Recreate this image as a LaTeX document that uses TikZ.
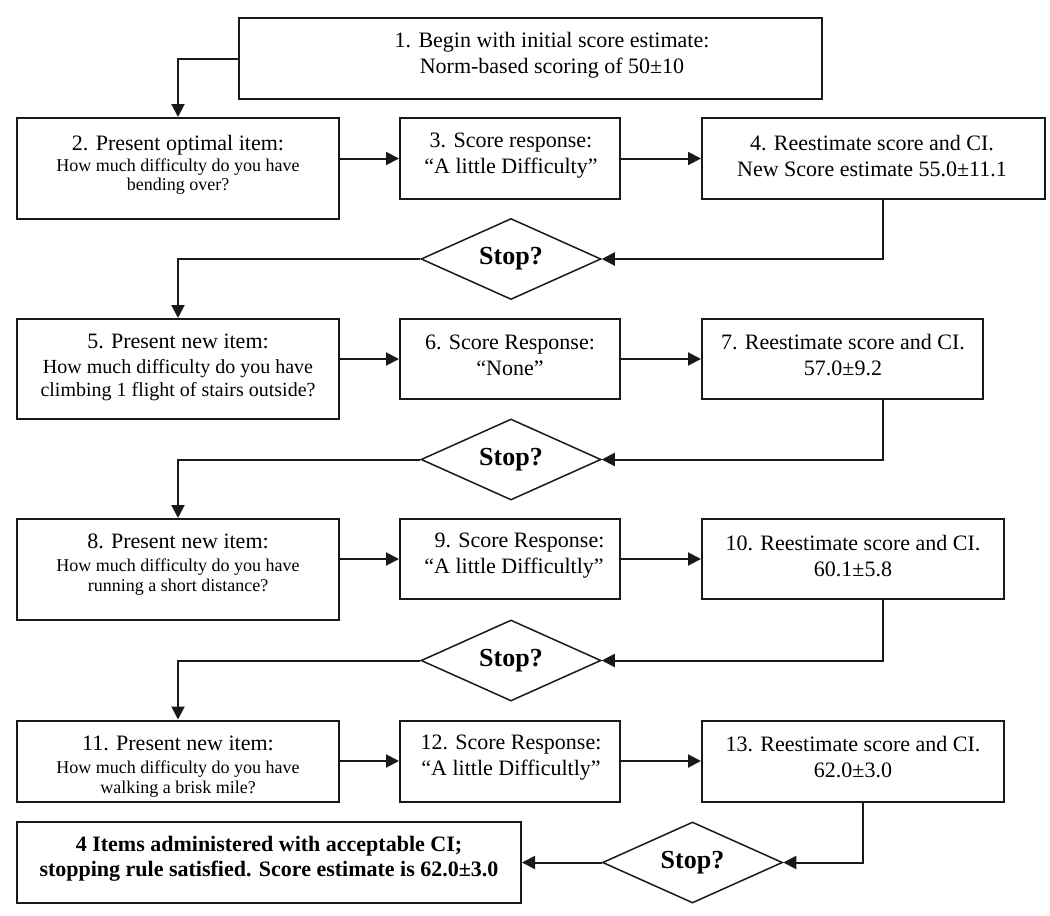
\documentclass[tikz,border=0pt]{standalone}
\usepackage{fontspec}
\setmainfont{Liberation Serif}
\usetikzlibrary{arrows.meta,shapes.geometric}
\begin{document}
\begin{tikzpicture}[x=1pt,y=-1pt,
  box/.style={draw=black!90, line width=2pt, inner sep=0pt, fill=none},
  dia/.style={draw=black!90, line width=1.5pt, diamond, aspect=2.25, inner sep=0pt,
     minimum width=180pt, minimum height=81pt, font=\fontsize{26}{30}\selectfont\bfseries},
  txt/.style={align=center, inner sep=0pt},
  big/.style={font=\fontsize{22}{26}\selectfont},
  qs/.style={font=\fontsize{18}{19.5}\selectfont},
  qm/.style={font=\fontsize{20}{23}\selectfont},
  arr/.style={line width=2pt, draw=black!90, -{Triangle[length=13pt,width=13pt]}}]
\useasboundingbox (0,0) rectangle (1050,916);

% boxes
\node[box, minimum width=583pt, minimum height=81pt] (b1) at (530.5,58.5) {};
\node[box, minimum width=322pt, minimum height=101pt] (b2) at (178,168.5) {};
\node[box, minimum width=220pt, minimum height=81pt] (b3) at (510,158.5) {};
\node[box, minimum width=343pt, minimum height=81pt] (b4) at (873.5,158.5) {};
\node[box, minimum width=322pt, minimum height=100pt] (b5) at (178,369) {};
\node[box, minimum width=220pt, minimum height=80pt] (b6) at (510,359) {};
\node[box, minimum width=281pt, minimum height=80pt] (b7) at (842.5,359) {};
\node[box, minimum width=322pt, minimum height=101pt] (b8) at (178,569.5) {};
\node[box, minimum width=220pt, minimum height=80pt] (b9) at (510,559) {};
\node[box, minimum width=302pt, minimum height=80pt] (b10) at (853,559) {};
\node[box, minimum width=322pt, minimum height=81pt] (b11) at (178,761) {};
\node[box, minimum width=220pt, minimum height=81pt] (b12) at (510,761) {};
\node[box, minimum width=302pt, minimum height=81pt] (b13) at (853,761) {};
\node[box, minimum width=504pt, minimum height=81pt] (bf) at (269,862.5) {};

% diamonds
\node[dia] (d1) at (511,259) {Stop?};
\node[dia] (d2) at (511,459.5) {Stop?};
\node[dia] (d3) at (511,660.5) {Stop?};
\node[dia] (d4) at (692.5,862.5) {Stop?};

% texts
\node[txt, big] (t1) at (552,55.5) {1. Begin with initial score estimate:\\Norm-based scoring of 50±10};
\node[txt, qs] (t2) at (178,165) {{\fontsize{22}{26}\selectfont 2. Present optimal item:}\\[1pt]How much difficulty do you have\\bending over?};
\node[txt, big] (t3) at (511,156) {3. Score response:\\“A little Difficulty”};
\node[txt, big] (t4) at (872,156) {4. Reestimate score and CI.\\New Score estimate 55.0±11.1};
\node[txt, qm] (t5) at (178,367) {{\fontsize{22}{26}\selectfont 5. Present new item:}\\[2pt]How much difficulty do you have\\climbing 1 flight of stairs outside?};
\node[txt, big] (t6) at (510,355.5) {6. Score Response:\\“None”};
\node[txt, big] (t7) at (843,355.5) {7. Reestimate score and CI.\\57.0±9.2};
\node[txt, qs] (t8) at (178,564.5) {{\fontsize{22}{26}\selectfont 8. Present new item:}\\[3.5pt]How much difficulty do you have\\running a short distance?};
\node[txt, big] (t9) at (514,556) {\ \ 9. Score Response:\\“A little Difficultly”};
\node[txt, big] (t10) at (853,556) {10. Reestimate score and CI.\\60.1±5.8};
\node[txt, qs] (t11) at (178,766.5) {{\fontsize{22}{26}\selectfont 11. Present new item:}\\[3.5pt]How much difficulty do you have\\walking a brisk mile?};
\node[txt, big] (t12) at (511,757.5) {12. Score Response:\\“A little Difficultly”};
\node[txt, big] (t13) at (853,757.5) {13. Reestimate score and CI.\\62.0±3.0};
\node[txt, font=\fontsize{22}{25}\selectfont\bfseries] (tf) at (269,859) {4 Items administered with acceptable CI;\\stopping rule satisfied. Score estimate is 62.0±3.0};

% helper coordinates for vertical drops
\coordinate (vx) at (883,0);
\coordinate (vy) at (863,0);

% connectors
\draw[arr] (b1.west) -| (b2.north);
\draw[arr] (b2.east |- b3.west) -- (b3.west);
\draw[arr] (b3.east) -- (b4.west);
\draw[arr] (vx |- b4.south) |- (d1.east);
\draw[arr] (d1.west) -| (b5.north);
\draw[arr] (b5.east |- b6.west) -- (b6.west);
\draw[arr] (b6.east) -- (b7.west);
\draw[arr] (vx |- b7.south) |- (d2.east);
\draw[arr] (d2.west) -| (b8.north);
\draw[arr] (b8.east |- b9.west) -- (b9.west);
\draw[arr] (b9.east) -- (b10.west);
\draw[arr] (vx |- b10.south) |- (d3.east);
\draw[arr] (d3.west) -| (b11.north);
\draw[arr] (b11.east |- b12.west) -- (b12.west);
\draw[arr] (b12.east) -- (b13.west);
\draw[arr] (vy |- b13.south) |- (d4.east);
\draw[arr] (d4.west) -- (bf.east);
\end{tikzpicture}
\end{document}
